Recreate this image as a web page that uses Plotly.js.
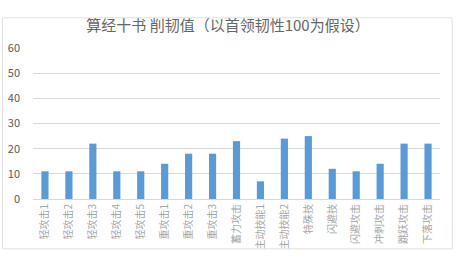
<!DOCTYPE html>
<html><head><meta charset="utf-8">
<script src="https://cdn.plot.ly/plotly-3.0.1.min.js"></script>
<style>html,body{margin:0;padding:0;background:#fff}#c{width:456px;height:273px}</style>
</head><body><div id="c"></div>
<script>
const categories = ["轻攻击1","轻攻击2","轻攻击3","轻攻击4","轻攻击5","重攻击1","重攻击2","重攻击3","蓄力攻击","主动技能1","主动技能2","特殊技","闪避技","闪避攻击","冲刺攻击","跳跃攻击","下落攻击"];
const values = [11,11,22,11,11,14,18,18,23,7,24,25,12,11,14,22,22];
const yTicks = [0,10,20,30,40,50,60];
const titleText = "算经十书 削韧值（以首领韧性100为假设）";

const font = "'Noto Sans CJK SC', 'Noto Sans', sans-serif";
Plotly.newPlot('c', [{
  type:'bar', x:categories, y:values,
  marker:{color:'#5b9bd5'}, hoverinfo:'skip'
}], {
  width:456, height:273,
  margin:{l:33,r:16,t:48,b:74},
  paper_bgcolor:'#fff', plot_bgcolor:'#fff',
  bargap:0.7,
  showlegend:false,
  title:{text:titleText, x:0.5, xanchor:'center', y:0.905, yanchor:'middle', font:{family:font,size:15,color:'#666666'}},
  xaxis:{type:'category', tickangle:-90, tickfont:{family:font,size:10,color:'#a6a6a6'},
    showgrid:false, showline:true, linecolor:'#d9d9d9', ticks:'', automargin:false},
  yaxis:{range:[0,60], tickvals:yTicks, ticktext:yTicks.map(String), showgrid:true, gridcolor:'#d9d9d9',
    zeroline:false, tickfont:{family:font,size:11,color:'#595959'}, ticks:'', automargin:false, ticklabelstandoff:12},
  shapes:[{type:'rect', xref:'paper', yref:'paper', x0:-0.075, x1:1.03, y0:-0.33, y1:1.2, line:{color:'#e0e0e0',width:1}}]
}, {displayModeBar:false, staticPlot:true});
</script></body></html>
